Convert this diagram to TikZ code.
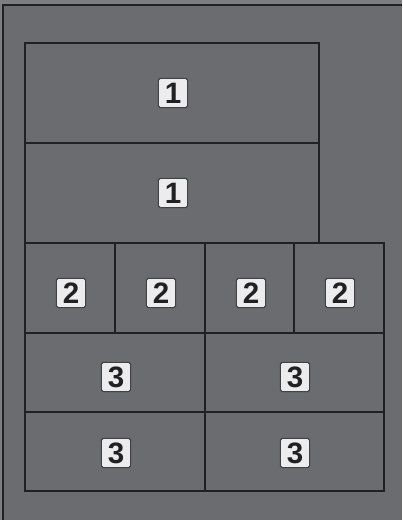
\documentclass[tikz,border=0pt]{standalone}
\usepackage{fontspec}
\setsansfont{Liberation Sans}
\usetikzlibrary{positioning}
\definecolor{slab}{RGB}{107,108,112}
\definecolor{rim}{RGB}{125,126,130}
\definecolor{ink}{RGB}{33,32,35}
\definecolor{chip}{RGB}{236,236,238}

\tikzset{
  tag/.style={draw=ink!85, fill=chip, line width=0.8pt, rounded corners=1.2pt,
    minimum size=0.73cm, inner sep=0pt, font=\sffamily\bfseries\fontsize{21}{21}\selectfont, text=ink},
  panel/.style={draw=ink, line width=1.3pt},
  edge/.style={draw=ink, line width=1.8pt}
}

\begin{document}
\begin{tikzpicture}[x=0.025cm, y=-0.025cm]
  \useasboundingbox (0,0) rectangle (402,520);
  \fill[rim] (0,0) rectangle (402,520);
  \fill[slab] (3,5) rectangle (402,520);
  \draw[ink, line width=1.4pt] (3,520) -- (3,5) -- (402,5);

  % inner divisions
  \draw[panel] (25,143) -- (319,143);
  \draw[panel] (25,333) -- (384,333);
  \draw[panel] (25,412) -- (384,412);
  \draw[panel] (115,243) -- (115,333);
  \draw[panel] (205,243) -- (205,491);
  \draw[panel] (294,243) -- (294,333);
  \draw[panel] (319,243) -- (384,243);
  \draw[panel] (25,243) -- (319,243);

  % outline
  \draw[edge] (25,491) -- (25,43) -- (319,43) -- (319,243) -- (384,243)
    -- (384,491) -- cycle;

  % labels
  \node[tag] (a1) at (173,93) {1};
  \node[tag] (a2) at (173,193) {1};
  \node[tag] (b1) at (71,293) {2};
  \node[tag] (b2) at (161,293) {2};
  \node[tag] (b3) at (251,293) {2};
  \node[tag] (b4) at (340,293) {2};
  \node[tag] (c1) at (116,377) {3};
  \node[tag] (c2) at (295,377) {3};
  \node[tag] (c3) at (116,453) {3};
  \node[tag] (c4) at (295,453) {3};
\end{tikzpicture}
\end{document}
